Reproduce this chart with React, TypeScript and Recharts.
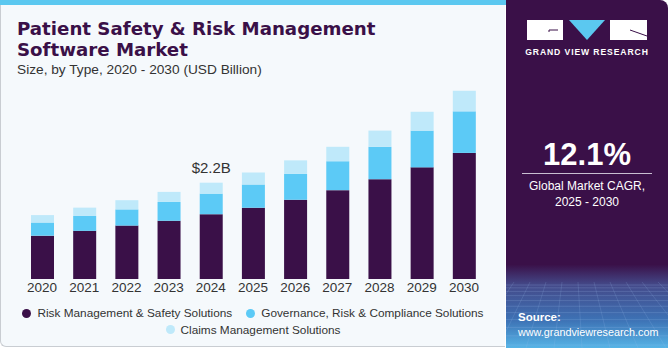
import React from "react";
import { BarChart, Bar, XAxis, YAxis, LabelList } from "recharts";

const years = ["2020", "2021", "2022", "2023", "2024", "2025", "2026", "2027", "2028", "2029", "2030"];
const riskManagement = [0.99, 1.10, 1.22, 1.33, 1.48, 1.63, 1.81, 2.03, 2.28, 2.55, 2.88];
const governance = [0.30, 0.34, 0.37, 0.43, 0.47, 0.53, 0.59, 0.66, 0.74, 0.84, 0.95];
const claims = [0.17, 0.19, 0.21, 0.23, 0.25, 0.27, 0.31, 0.33, 0.37, 0.43, 0.47];
const seriesNames = [
  "Risk Management & Safety Solutions",
  "Governance, Risk & Compliance Solutions",
  "Claims Management Solutions",
];
const seriesColors = ["#3a1048", "#5ccaf6", "#bfe9fa"];
const annotatedYear = "2024";
const annotationText = "$2.2B";

const data = years.map((y, i) => ({
  year: y,
  risk: riskManagement[i],
  gov: governance[i],
  claims: claims[i],
  label: y === annotatedYear ? annotationText : "",
}));

const FONT = "'Liberation Sans', Arial, sans-serif";

const LegendItem = ({ name, color }: { name: string; color: string }) => (
  <span style={{ display: "inline-flex", alignItems: "center", margin: "0 7px" }}>
    <span
      style={{
        width: 9,
        height: 9,
        borderRadius: "50%",
        background: color,
        display: "inline-block",
        marginRight: 6,
      }}
    />
    <span>{name}</span>
  </span>
);

export default function App() {
  return (
    <div style={{ position: "relative", width: 670, height: 350, fontFamily: FONT, overflow: "hidden", background: "#ffffff" }}>
      <style>{`body{margin:0}`}</style>
      {/* left panel */}
      <div
        style={{
          position: "absolute",
          left: 0,
          top: 0,
          width: 505,
          height: 347,
          background: "#f5f9fc",
          borderLeft: "1px solid #c9cdd2",
          borderBottom: "1px solid #c9cdd2",
          borderBottomLeftRadius: 6,
          boxSizing: "border-box",
        }}
      />
      <div style={{ position: "absolute", left: 0, top: 0, width: 506, height: 5, background: "#5bc8f0" }} />
      {/* titles */}
      <div
        style={{
          position: "absolute",
          left: 17,
          top: 18,
          fontFamily: "'DejaVu Sans', sans-serif",
          fontSize: 18.2,
          lineHeight: "21px",
          fontWeight: 700,
          color: "#3a1048",
        }}
      >
        Patient Safety &amp; Risk Management
        <br />
        Software Market
      </div>
      <div style={{ position: "absolute", left: 17, top: 62, fontSize: 13.7, color: "#333333" }}>
        Size, by Type, 2020 - 2030 (USD Billion)
      </div>

      {/* chart */}
      <div style={{ position: "absolute", left: 0, top: 0 }}>
        <BarChart
          width={670}
          height={350}
          data={data}
          margin={{ top: 82, left: 21, right: 185, bottom: 41 }}
        >
          <XAxis
            dataKey="year"
            axisLine={false}
            tickLine={false}
            tickSize={0}
            tickMargin={3}
            height={30}
            interval={0}
            tick={{ fontSize: 13.5, fill: "#333333", fontFamily: FONT }}
          />
          <YAxis hide domain={[0, 4.5]} />
          <Bar dataKey="risk" stackId="a" fill={seriesColors[0]} barSize={23} isAnimationActive={false} />
          <Bar dataKey="gov" stackId="a" fill={seriesColors[1]} barSize={23} isAnimationActive={false} />
          <Bar dataKey="claims" stackId="a" fill={seriesColors[2]} barSize={23} isAnimationActive={false}>
            <LabelList
              dataKey="label"
              position="top"
              offset={10}
              style={{ fontSize: 15, fill: "#333333", fontFamily: FONT }}
            />
          </Bar>
        </BarChart>
      </div>

      {/* legend */}
      <div
        style={{
          position: "absolute",
          left: 0,
          width: 506,
          top: 305,
          textAlign: "center",
          fontSize: 11.8,
          color: "#333333",
          lineHeight: "16px",
        }}
      >
        <div>
          <LegendItem name={seriesNames[0]} color={seriesColors[0]} />
          <LegendItem name={seriesNames[1]} color={seriesColors[1]} />
        </div>
        <div>
          <LegendItem name={seriesNames[2]} color={seriesColors[2]} />
        </div>
      </div>

      {/* right panel */}
      <div
        style={{
          position: "absolute",
          left: 506,
          top: 0,
          width: 162,
          height: 348,
          borderTopRightRadius: 8,
          background:
            "linear-gradient(180deg, #3a1048 0%, #3a1048 76%, #444a8a 82%, #3d72b5 92%, #56b4e6 100%)",
          overflow: "hidden",
        }}
      >
        <svg width={162} height={348} style={{ position: "absolute", left: 0, top: 0 }}>
          {/* faint perspective grid */}
          {Array.from({ length: 14 }).map((_, i) => (
            <line key={"h" + i} x1={0} x2={162} y1={285 + i * i * 0.35 + i * 2.5} y2={285 + i * i * 0.35 + i * 2.5} stroke="#9fc2ee" strokeOpacity={0.25} strokeWidth={0.8} />
          ))}
          {Array.from({ length: 16 }).map((_, i) => (
            <line key={"v" + i} x1={-40 + i * 16} x2={-120 + i * 28} y1={282} y2={348} stroke="#9fc2ee" strokeOpacity={0.22} strokeWidth={0.8} />
          ))}
          {/* logo */}
          <rect x={21} y={20} width={36} height={20} fill="#ffffff" />
          <polyline points="43,32 43,30 52,30" fill="none" stroke="#3a1048" strokeWidth={1} />
          <polygon points="63,20 99,20 81,40" fill="#5bc8f0" />
          <rect x={104} y={20} width={37} height={20} fill="#ffffff" />
          <line x1={124} y1={30} x2={141} y2={36} stroke="#3a1048" strokeWidth={1} />
          <text x={81} y={55} textAnchor="middle" fill="#ffffff" fontSize={8.6} fontWeight={700} letterSpacing={0.9} fontFamily={FONT}>
            GRAND VIEW RESEARCH
          </text>
          {/* CAGR */}
          <text x={81} y={165} textAnchor="middle" fill="#ffffff" fontSize={31} fontWeight={700} fontFamily={FONT}>
            12.1%
          </text>
          <line x1={16} x2={146} y1={173.5} y2={173.5} stroke="#c9bfd2" strokeWidth={1} />
          <text x={81} y={190} textAnchor="middle" fill="#ffffff" fontSize={12} fontFamily={FONT}>
            Global Market CAGR,
          </text>
          <text x={81} y={206} textAnchor="middle" fill="#ffffff" fontSize={12} fontFamily={FONT}>
            2025 - 2030
          </text>
          <text x={12} y={321} fill="#ffffff" fontSize={11.5} fontWeight={700} fontFamily={FONT}>
            Source:
          </text>
          <text x={12} y={336} fill="#ffffff" fontSize={10.8} fontFamily={FONT}>
            www.grandviewresearch.com
          </text>
        </svg>
      </div>
    </div>
  );
}
